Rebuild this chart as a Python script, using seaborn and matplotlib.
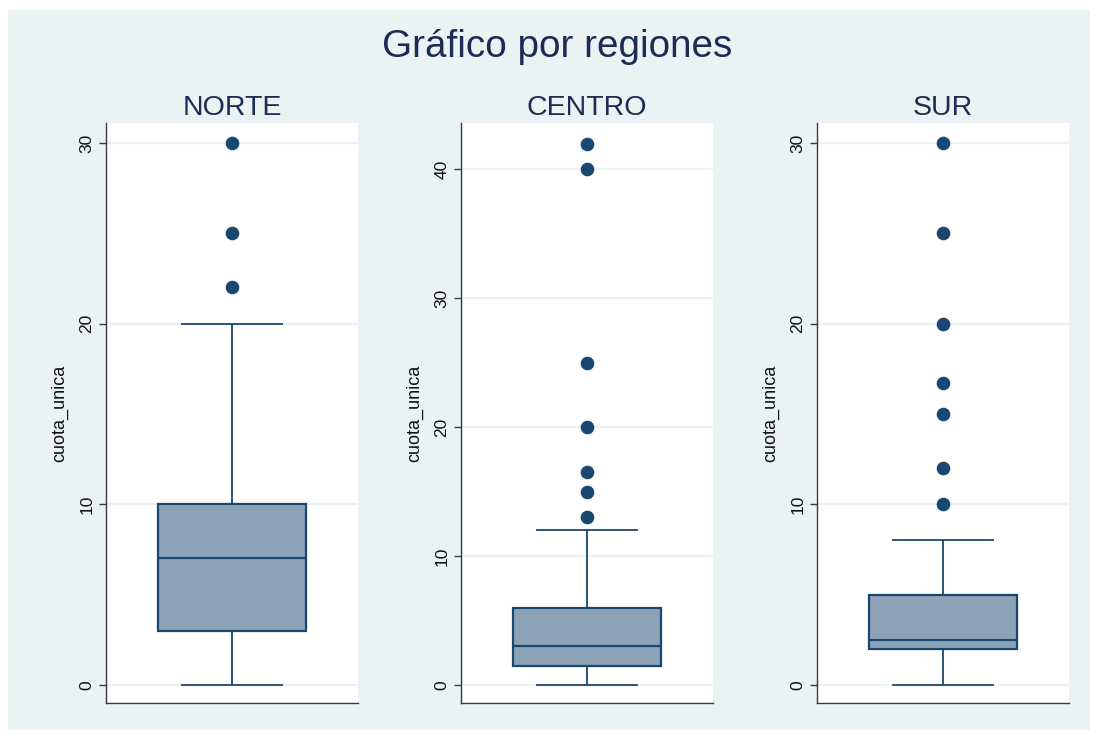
import seaborn as sns
import matplotlib.pyplot as plt
from matplotlib.patches import Rectangle

# datos (ordenados)
regiones = ["NORTE", "CENTRO", "SUR"]
norte = [0, 1, 2, 2.5, 3, 4, 5, 6, 7, 8, 9, 9.5, 10, 20, 22, 25, 30]
centro = [0, 0.5, 0.5, 1, 1, 1, 1, 1.5, 1.5,
          2, 2, 2, 2.5, 2.5, 3, 3, 3,
          3, 3.5, 4, 4, 5, 5, 5.5, 6,
          12, 13, 15, 16.5, 20, 25, 40, 42]
sur = [0, 0.5, 1, 1, 1, 1.5, 2, 2, 2,
       2, 2, 2, 2, 2.5, 2.5, 2.5, 2.5,
       3, 3, 3, 4, 4, 4.5, 5, 5,
       8, 10, 12, 15, 16.7, 20, 25, 30]
valores = [norte, centro, sur]
yticks = [[0, 10, 20, 30], [0, 10, 20, 30, 40], [0, 10, 20, 30]]
ylims = [(-1.0, 31.1), (-1.4, 43.6), (-1.0, 31.1)]

# colores estilo Stata s2color
FONDO = "#EAF2F3"
NAVY = "#1A476F"
RELLENO = "#8CA3B7"
TITULO = "#1C2D55"

plt.rcParams["font.family"] = ["Liberation Sans", "DejaVu Sans"]

fig = plt.figure(figsize=(10.96, 7.38), dpi=100, facecolor="white")
fig.patches.append(Rectangle((8 / 1096, 8 / 738), 1082 / 1096, 720 / 738,
                             transform=fig.transFigure, facecolor=FONDO,
                             edgecolor="none", zorder=-1))

lefts = [106, 461, 817]
for i, reg in enumerate(regiones):
    ax = fig.add_axes([lefts[i] / 1096, 35 / 738, 252 / 1096, 580 / 738])
    sns.boxplot(y=valores[i], ax=ax, width=0.59, color=RELLENO, saturation=1,
                linecolor=NAVY, linewidth=1.6, fliersize=8.8, capwidths=0.4,
                whiskerprops=dict(linewidth=1.3), capprops=dict(linewidth=1.3),
                flierprops=dict(marker="o", markerfacecolor=NAVY,
                                markeredgecolor=NAVY))
    ax.set_facecolor("white")
    ax.set_xlim(-0.5, 0.5)
    ax.set_xticks([])
    ax.set_ylim(*ylims[i])
    ax.set_yticks(yticks[i])
    ax.yaxis.grid(True, color=FONDO, linewidth=1.6)
    ax.set_axisbelow(True)
    for s in ["top", "right"]:
        ax.spines[s].set_visible(False)
    for s in ["left", "bottom"]:
        ax.spines[s].set_color("#3a3a3a")
        ax.spines[s].set_linewidth(1.0)
    ax.tick_params(axis="y", length=5, width=1, color="#3a3a3a",
                   labelsize=12.5, labelcolor="#111111")
    plt.setp(ax.get_yticklabels(), rotation=90, va="center", ha="right")
    ax.set_ylabel("cuota_unica", fontsize=13, color="#111111", labelpad=8)
    ax.set_title(reg, fontsize=20.5, color=TITULO, pad=6)

fig.text(557 / 1096, 1 - 57 / 738, "Gráfico por regiones", ha="center",
         va="baseline", fontsize=27.8, color=TITULO)

fig.savefig("out.png", dpi=100, facecolor="white")
